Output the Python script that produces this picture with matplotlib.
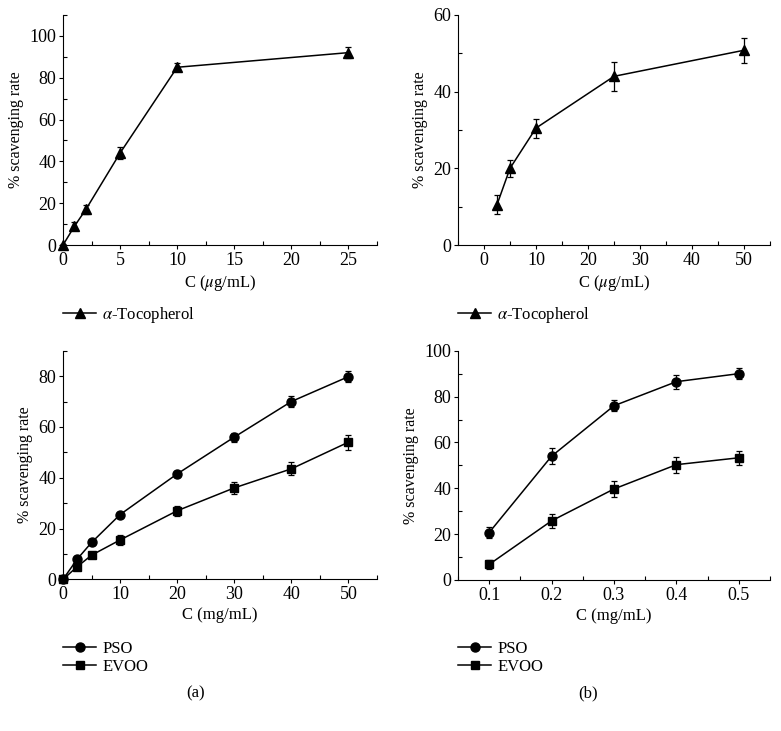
import matplotlib
matplotlib.use("Agg")
import matplotlib.pyplot as plt
from matplotlib.ticker import MultipleLocator

plt.rcParams['font.family'] = ['Liberation Serif', 'DejaVu Serif']
plt.rcParams['mathtext.fontset'] = 'stix'

# alpha-tocopherol, panel (a)
toc_a_x = [0, 1, 2, 5, 10, 25]
toc_a_y = [0, 9, 17, 44, 85, 92]
toc_a_err = [0.5, 2, 2, 3, 2, 2.5]

# alpha-tocopherol, panel (b)
toc_b_x = [2.5, 5, 10, 25, 50]
toc_b_y = [10.5, 20, 30.5, 44, 50.8]
toc_b_err = [2.5, 2.3, 2.5, 3.7, 3.2]

# oils, panel (a)
oil_a_x = [0, 2.5, 5, 10, 20, 30, 40, 50]
pso_a_y = [0, 8, 14.5, 25.5, 41.5, 56, 70, 79.8]
pso_a_err = [0.5, 1, 1, 1, 1.3, 1.8, 2, 2.2]
evoo_a_y = [0, 5, 9.5, 15.5, 27, 36, 43.5, 54]
evoo_a_err = [0.5, 1, 1, 2, 2, 2.5, 2.5, 3]

# oils, panel (b)
oil_b_x = [0.1, 0.2, 0.3, 0.4, 0.5]
pso_b_y = [20.7, 54, 76, 86.5, 90]
pso_b_err = [2.5, 3.5, 2.5, 3, 2.5]
evoo_b_y = [6.8, 25.8, 39.7, 50.3, 53.3]
evoo_b_err = [2, 3, 3.5, 3.5, 3]

toc_label = r'$\mathit{\alpha}$-Tocopherol'
oil_labels = ['PSO', 'EVOO']

fig = plt.figure(figsize=(7.81, 7.31), dpi=100)

ax1 = fig.add_axes([0.0807, 0.6648, 0.402, 0.3147])
ax2 = fig.add_axes([0.5864, 0.6648, 0.3995, 0.3147])
ax3 = fig.add_axes([0.0807, 0.2075, 0.402, 0.3127])
ax4 = fig.add_axes([0.5864, 0.2066, 0.3995, 0.3136])

ug_label = r'C ($\mathit{\mu}$g/mL)'
FS = 12


def style_ax(ax, xmaj, xmin, ymaj, ymin):
    ax.spines['top'].set_visible(False)
    ax.spines['right'].set_visible(False)
    ax.xaxis.set_major_locator(MultipleLocator(xmaj))
    ax.xaxis.set_minor_locator(MultipleLocator(xmin))
    ax.yaxis.set_major_locator(MultipleLocator(ymaj))
    ax.yaxis.set_minor_locator(MultipleLocator(ymin))
    ax.tick_params(which='major', direction='out', length=3, width=0.8, labelsize=13, pad=2)
    ax.tick_params(which='minor', direction='in', length=3, width=0.8)
    ax.set_ylabel('% scavenging rate', fontsize=11.5, labelpad=4)


def plot_series(ax, x, y, err, marker, ms):
    cont = ax.errorbar(x, y, yerr=err, color='black', marker=marker, ms=ms, lw=1.1,
                       elinewidth=0.9, capsize=2, capthick=0.9, clip_on=False, zorder=3)
    return cont[0]


# top left
h1 = plot_series(ax1, toc_a_x, toc_a_y, toc_a_err, '^', 7.5)
ax1.set_xlim(0, 27.5)
ax1.set_ylim(0, 110)
style_ax(ax1, 5, 2.5, 20, 10)
ax1.set_xlabel(ug_label, fontsize=FS, labelpad=3)

# top right
h2 = plot_series(ax2, toc_b_x, toc_b_y, toc_b_err, '^', 7.5)
ax2.set_xlim(-5, 55)
ax2.set_ylim(0, 60)
style_ax(ax2, 10, 5, 20, 10)
ax2.set_xlabel(ug_label, fontsize=FS, labelpad=3)

# bottom left
h3a = plot_series(ax3, oil_a_x, pso_a_y, pso_a_err, 'o', 6.5)
h3b = plot_series(ax3, oil_a_x, evoo_a_y, evoo_a_err, 's', 6)
ax3.set_xlim(0, 55)
ax3.set_ylim(0, 90)
style_ax(ax3, 10, 5, 20, 10)
ax3.set_xlabel('C (mg/mL)', fontsize=FS, labelpad=3)

# bottom right
h4a = plot_series(ax4, oil_b_x, pso_b_y, pso_b_err, 'o', 6.5)
h4b = plot_series(ax4, oil_b_x, evoo_b_y, evoo_b_err, 's', 6)
ax4.set_xlim(0.05, 0.55)
ax4.set_ylim(0, 100)
style_ax(ax4, 0.1, 0.05, 20, 10)
ax4.set_xlabel('C (mg/mL)', fontsize=FS, labelpad=3)

# legends under each panel (line handles only, no error bars)
for ax, handles, labels, lx, ly in [(ax1, [h1], [toc_label], 0.072, 0.592),
                                    (ax2, [h2], [toc_label], 0.578, 0.592),
                                    (ax3, [h3a, h3b], oil_labels, 0.072, 0.132),
                                    (ax4, [h4a, h4b], oil_labels, 0.578, 0.132)]:
    ax.legend(handles, labels, loc='upper left', bbox_to_anchor=(lx, ly),
              bbox_transform=fig.transFigure, frameon=False, fontsize=FS,
              handlelength=2.0, handletextpad=0.35, labelspacing=0.1, borderaxespad=0)

fig.text(0.25, 0.052, '(a)', ha='center', va='center', fontsize=FS)
fig.text(0.753, 0.052, '(b)', ha='center', va='center', fontsize=FS)

fig.savefig('out.png', dpi=100)
